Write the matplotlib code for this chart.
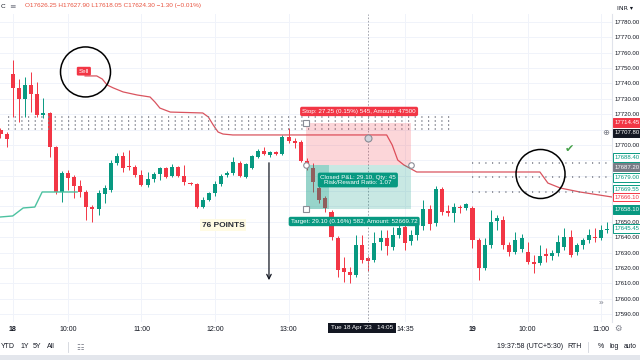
import matplotlib.pyplot as plt
import matplotlib.transforms as mtransforms
from matplotlib.patches import Rectangle, Ellipse
import numpy as np

plt.rcParams['font.family'] = ['Liberation Sans', 'DejaVu Sans']

# 5 minute candles, 17 Apr 15:20 -> 19 Apr ~11:10
opens = [17709.7, 17707.1, 17746.2, 17737.1, 17729.9, 17739.0, 17733.1, 17719.5, 17720.8, 17698.7,
         17669.4, 17681.7, 17679.1, 17673.3, 17669.4, 17659.6, 17658.3, 17668.0, 17670.7, 17688.3,
         17692.8, 17686.3, 17685.7, 17680.5, 17673.9, 17677.8, 17681.1, 17685.0, 17679.8, 17685.7,
         17679.8, 17675.2, 17674.6, 17659.6, 17664.2, 17668.7, 17674.6, 17680.5, 17681.7, 17688.3,
         17679.1, 17685.0, 17692.2, 17696.1, 17693.5, 17695.4, 17694.1, 17705.2, 17702.6, 17701.9,
         17689.6, 17685.0, 17672.0, 17665.5, 17656.4, 17639.5, 17620.0, 17617.3, 17615.4, 17634.9,
         17626.25, 17625.2, 17636.8, 17639.5, 17633.6, 17641.4, 17646.6, 17637.5, 17641.4, 17647.3,
         17658.3, 17649.2, 17671.3, 17657.0, 17655.7, 17659.6, 17659.0, 17659.0, 17638.2, 17619.9,
         17634.9, 17650.5, 17651.2, 17634.9, 17630.4, 17632.3, 17630.4, 17623.8, 17623.2, 17629.1,
         17627.8, 17629.7, 17633.6, 17640.1, 17630.4, 17634.9, 17638.2, 17640.1, 17639.5, 17644.7]
highs = [17711.0, 17708.4, 17755.3, 17742.9, 17744.2, 17747.5, 17740.9, 17730.6, 17721.5, 17699.3,
         17683.0, 17683.7, 17680.4, 17677.2, 17670.7, 17660.9, 17670.7, 17673.9, 17690.2, 17694.8,
         17695.4, 17696.7, 17687.0, 17683.7, 17682.4, 17682.4, 17685.7, 17685.7, 17687.6, 17686.3,
         17687.0, 17675.9, 17675.2, 17666.1, 17669.4, 17676.5, 17681.1, 17683.0, 17692.2, 17689.6,
         17688.3, 17693.5, 17697.4, 17698.7, 17696.1, 17696.1, 17706.5, 17711.0, 17704.5, 17703.2,
         17691.5, 17688.3, 17673.3, 17666.8, 17657.7, 17640.8, 17627.1, 17620.6, 17641.4, 17641.4,
         17627.90, 17643.4, 17644.7, 17644.7, 17646.6, 17651.2, 17649.9, 17644.7, 17652.5, 17664.2,
         17660.9, 17673.3, 17672.6, 17660.9, 17662.2, 17660.9, 17662.2, 17660.3, 17639.5, 17639.5,
         17657.7, 17654.4, 17653.8, 17636.9, 17643.4, 17642.1, 17636.9, 17628.4, 17634.9, 17632.9,
         17631.7, 17641.4, 17646.0, 17644.7, 17636.2, 17639.5, 17645.3, 17646.0, 17648.0, 17649.9]
lows = [17704.5, 17698.7, 17718.2, 17714.9, 17718.2, 17721.5, 17718.2, 17717.5, 17692.2, 17668.0,
        17662.9, 17670.7, 17665.5, 17666.1, 17651.2, 17649.9, 17654.4, 17662.2, 17669.4, 17687.0,
        17682.4, 17683.7, 17679.2, 17673.3, 17672.6, 17675.9, 17677.2, 17678.5, 17679.1, 17679.1,
        17673.9, 17673.9, 17659.0, 17659.0, 17663.5, 17666.8, 17673.3, 17679.1, 17680.5, 17679.1,
        17678.5, 17684.4, 17691.5, 17693.5, 17692.2, 17693.5, 17693.5, 17701.3, 17698.0, 17688.9,
        17683.7, 17669.4, 17662.2, 17656.4, 17638.2, 17614.1, 17610.8, 17610.2, 17614.1, 17623.2,
        17618.05, 17623.8, 17631.7, 17628.4, 17631.7, 17639.5, 17631.7, 17634.9, 17638.2, 17644.7,
        17644.7, 17647.3, 17654.4, 17653.8, 17649.9, 17655.7, 17657.7, 17633.0, 17612.1, 17618.6,
        17632.9, 17644.7, 17632.3, 17627.8, 17629.1, 17630.4, 17622.5, 17616.7, 17621.9, 17623.8,
        17625.2, 17627.8, 17631.7, 17627.1, 17628.4, 17632.3, 17636.2, 17636.9, 17638.2, 17642.7]
closes = [17707.1, 17703.9, 17737.1, 17729.9, 17739.0, 17733.1, 17719.5, 17720.8, 17698.7, 17669.4,
          17681.7, 17678.5, 17673.3, 17669.4, 17659.6, 17658.3, 17668.7, 17672.0, 17688.3, 17692.8,
          17685.0, 17685.7, 17680.5, 17673.9, 17677.8, 17681.1, 17685.0, 17679.1, 17685.7, 17679.8,
          17675.9, 17674.6, 17659.6, 17664.2, 17668.7, 17674.6, 17679.8, 17681.7, 17688.9, 17679.8,
          17687.6, 17692.8, 17696.1, 17694.1, 17695.4, 17694.1, 17705.2, 17702.6, 17701.3, 17689.6,
          17685.0, 17675.9, 17664.2, 17659.0, 17640.1, 17618.6, 17617.3, 17615.4, 17634.9, 17625.2,
          17624.30, 17636.2, 17639.5, 17634.3, 17641.4, 17646.0, 17636.2, 17641.4, 17648.0, 17658.3,
          17648.6, 17671.3, 17656.4, 17655.7, 17659.6, 17659.0, 17661.6, 17638.2, 17619.9, 17634.9,
          17649.9, 17652.5, 17634.9, 17630.4, 17638.2, 17639.5, 17623.8, 17622.5, 17627.8, 17627.8,
          17629.7, 17636.9, 17640.1, 17628.4, 17634.9, 17638.2, 17641.4, 17639.5, 17644.7, 17645.45]

# trailing stop lines (bar index, price)
sell_x = [13.8, 15.7, 16.6, 17.4, 18.4, 20.0, 22.3, 24.4, 25.2, 26.0, 27.7, 33.0, 33.9, 34.7,
          35.5, 36.3, 37.9, 63.0, 63.9, 64.8, 65.8, 67.9, 88.0, 89.3, 91.3, 94.5, 99.8]
sell_y = [17744.9, 17744.9, 17742.9, 17739.0, 17737.1, 17734.5, 17732.5, 17731.2, 17727.9,
          17724.0, 17721.4, 17720.8, 17718.2, 17713.0, 17708.4, 17707.1, 17706.5, 17706.5,
          17700.0, 17690.2, 17687.0, 17682.4, 17682.4, 17675.2, 17672.0, 17669.4, 17666.1]
buy_x = [-0.1, 2.0, 3.7, 5.6, 6.8, 12.5]
buy_y = [17653.1, 17653.8, 17659.0, 17659.6, 17669.4, 17669.4]

# short position tool
entry = 17687.20
stop = 17714.45
target = 17658.10
pos_start, pos_end, pos_closed = 49.84, 66.97, 53.6

left_levels = [17718.5, 17715.6, 17713.0, 17710.4]
right_levels = [17688.40, 17679.00, 17669.55]

tick_idx = [2, 11, 23, 35, 47, 66, 77, 86, 98]
tick_lbl = ['18', '10:00', '11:00', '12:00', '13:00', '14:35', '19', '10:00', '11:00']
price_levels = list(range(17590, 17790, 10))
shown_prices = [17780, 17770, 17760, 17750, 17740, 17730, 17720, 17700,
                17650, 17640, 17630, 17620, 17610, 17600, 17590]

GREEN = '#089981'
RED = '#f23645'
TXT = '#131722'

fig = plt.figure(figsize=(6.4, 3.6), dpi=100)
ax = fig.add_axes([0, 38 / 360, 612 / 640, 308 / 360])
ax.set_xlim(-0.08, 99.76)
ax.set_ylim(17584.8, 17785.2)
for s in ['top', 'left', 'bottom']:
    ax.spines[s].set_visible(False)
ax.spines['right'].set_color('#e0e3eb')
ax.spines['right'].set_linewidth(0.8)

ax.yaxis.tick_right()
ax.set_yticks(price_levels, ['%.2f' % p if p in shown_prices else '' for p in price_levels])
ax.tick_params(axis='y', length=0, pad=2, labelsize=4.3, labelcolor=TXT)
ax.set_xticks(tick_idx, tick_lbl)
ax.tick_params(axis='x', length=0, pad=3, labelsize=5, labelcolor=TXT)
for t in ax.get_xticklabels():
    if t.get_text() in ('18', '19'):
        t.set_fontweight('bold')
ax.grid(True, color='#f0f3fa', lw=0.7)
ax.set_axisbelow(True)

# candles
o = np.array(opens)
c = np.array(closes)
x = np.arange(len(o))
cols = np.where(c >= o, GREEN, RED)
ax.vlines(x, lows, highs, colors=cols, lw=0.7, zorder=2)
ax.bar(x, np.maximum(np.abs(c - o), 0.8), bottom=np.minimum(o, c), width=0.66,
       color=cols, lw=0, zorder=2)

# supertrend style lines
ax.plot(sell_x, sell_y, color='#d9545f', lw=0.9, zorder=3)
ax.plot(buy_x, buy_y, color='#4cc2a0', lw=1.0, zorder=3)

# dotted levels
dots = dict(colors='#80838d', lw=1.2, linestyles=(0, (0.7, 3.3)), zorder=3)
ax.hlines(left_levels, 1.2, 74, **dots)
ax.hlines(right_levels, 77, 99.5, **dots)

# position zones
w = pos_end - pos_start
ax.add_patch(Rectangle((pos_start, entry), w, stop - entry, fc=RED, alpha=0.2, lw=0, zorder=4))
ax.add_patch(Rectangle((pos_start, target), w, entry - target, fc=GREEN, alpha=0.22, lw=0, zorder=4))
ax.add_patch(Rectangle((pos_start, target), pos_closed - pos_start, entry - target,
                       fc=GREEN, alpha=0.25, lw=0, zorder=4))

# crosshair
ax.axvline(60, color='#9598a1', lw=0.6, ls=(0, (2, 2)), zorder=3)

# handles
hk = dict(mfc='white', mec='#8a8d96', mew=0.8, ms=4, zorder=7, ls='none')
ax.plot([pos_start, pos_start], [stop, target], marker='s', **hk)
ax.plot([pos_start, pos_end], [entry, entry], marker='o', **hk)
ax.plot([60], [17704.5], marker='o', ms=5, mfc='#d1d4dc', mec='#8a8d96', mew=0.8, zorder=7)

# labels on the position tool
ax.text(58.5, 17721.8, 'Stop: 27.25 (0.15%) 545, Amount: 47500', ha='center', va='center',
        fontsize=4.5, color='white', zorder=8,
        bbox=dict(boxstyle='round,pad=0.35,rounding_size=0.3', fc=RED, ec='none'))
ax.text(58.3, 17677.2, 'Closed P&L: 29.10, Qty: 45\nRisk/Reward Ratio: 1.07', ha='center',
        va='center', fontsize=4.5, color='white', linespacing=1.1, zorder=8,
        bbox=dict(boxstyle='round,pad=0.35,rounding_size=0.3', fc=GREEN, ec='none'))
ax.text(57.7, 17650.2, 'Target: 29.10 (0.16%) 582, Amount: 52669.72', ha='center', va='center',
        fontsize=4.5, color='white', zorder=8,
        bbox=dict(boxstyle='round,pad=0.35,rounding_size=0.3', fc=GREEN, ec='none'))
ax.text(13.6, 17748.0, 'Sell', ha='center', va='center', fontsize=4.5, color='white', zorder=8,
        bbox=dict(boxstyle='round,pad=0.3,rounding_size=0.2', fc=RED, ec='none'))

# annotations drawn by the author
ax.add_patch(Ellipse((13.87, 17747.5), 50 / 6.13, 50 / 1.537, fill=False, ec='black', lw=1.1, zorder=8))
ax.add_patch(Ellipse((88.1, 17681.1), 49 / 6.13, 49 / 1.537, fill=False, ec='black', lw=1.1, zorder=8))
ax.text(92.8, 17697.5, '\u2714', family='DejaVu Sans', fontsize=8, color='#43a047',
        ha='center', va='center', zorder=8)
ax.annotate('', xy=(43.8, 17610.2), xytext=(43.8, 17690.2),
            arrowprops=dict(arrowstyle='->', color=TXT, lw=0.9, mutation_scale=8), zorder=8)
ax.text(36.3, 17647.9, '76 POINTS', ha='center', va='center', fontsize=6, fontweight='bold',
        color='#2a2e39', zorder=8, bbox=dict(boxstyle='square,pad=0.25', fc='#fffbe3', ec='none'))

# price tags on the scale
trans = mtransforms.blended_transform_factory(ax.transAxes, ax.transData)
px = 1.0 / 1.537


def tag(price, fc, tc, ec, dy=0.0):
    ax.text(1.0 + 3 / 612, price - dy * px, '%.2f' % price, transform=trans, ha='left',
            va='center', fontsize=4.3, color=tc, clip_on=False, zorder=10,
            bbox=dict(boxstyle='square,pad=0.3', fc=fc, ec=ec, lw=0.7))


tag(17714.45, RED, 'white', RED)
tag(17707.80, TXT, 'white', TXT)
tag(17688.40, 'white', GREEN, GREEN, dy=-5.5)
tag(17687.20, '#787b86', 'white', '#787b86', dy=2.4)
tag(17679.00, 'white', GREEN, GREEN)
tag(17669.55, 'white', GREEN, GREEN, dy=-2.5)
tag(17666.10, 'white', RED, RED)
tag(17658.10, GREEN, 'white', GREEN)
tag(17645.45, 'white', GREEN, GREEN)
ax.text(1.0 - 6 / 612, 17707.80, '\u2295', transform=trans, family='DejaVu Sans', fontsize=6,
        color='#787b86', ha='center', va='center', clip_on=False, zorder=10)
ax.text(98.0, 17597.0, '\u00bb', fontsize=6, color='#787b86', ha='center', va='center', zorder=8)

# time label of the crosshair
xtrans = mtransforms.blended_transform_factory(ax.transData, ax.transAxes)
ax.text(59.0, -6 / 308, "Tue 18 Apr '23   14:05", transform=xtrans, ha='center', va='center',
        fontsize=4.6, color='white', clip_on=False, zorder=10,
        bbox=dict(boxstyle='square,pad=0.4', fc=TXT, ec='none'))

# header and toolbar
fig.text(1 / 640, 1 - 6 / 360, 'C', fontsize=4.6, color=TXT, va='center')
fig.text(9 / 640, 1 - 6 / 360, '\u2261', fontsize=5.5, color='#787b86', va='center', family='DejaVu Sans')
fig.text(25 / 640, 1 - 6 / 360, 'O17626.25 H17627.90 L17618.05 C17624.30 \u22121.30 (\u22120.01%)',
         fontsize=4.6, color='#e8533f', va='center')
fig.text(617 / 640, 1 - 8 / 360, 'INR \u25be', fontsize=4.5, color=TXT, va='center', family='DejaVu Sans')
fig.text(618 / 640, 1 - 328 / 360, '\u2699', fontsize=6, color='#787b86', va='center', ha='center',
         family='DejaVu Sans')

yb = 1 - 347 / 360
for xx, s in [(1, 'YTD'), (20, '1Y'), (33, '5Y'), (47, 'All')]:
    fig.text(xx / 640, yb, s, fontsize=5, color=TXT, va='center')
fig.add_artist(plt.Line2D([68 / 640, 68 / 640], [yb - 0.015, yb + 0.015], color='#d1d4dc', lw=0.6))
fig.text(80 / 640, yb, '\u2637', fontsize=6, color='#787b86', va='center', ha='center', family='DejaVu Sans')
fig.text(497 / 640, yb, '19:37:58 (UTC+5:30)', fontsize=5, color=TXT, va='center')
fig.text(567 / 640, yb, 'RTH', fontsize=5, color=TXT, va='center')
fig.add_artist(plt.Line2D([588 / 640, 588 / 640], [yb - 0.015, yb + 0.015], color='#d1d4dc', lw=0.6))
fig.text(598 / 640, yb, '%', fontsize=5, color=TXT, va='center')
fig.text(609 / 640, yb, 'log', fontsize=5, color=TXT, va='center')
fig.text(624 / 640, yb, 'auto', fontsize=4.8, color=TXT, va='center')
fig.add_artist(Rectangle((0, 0), 1, 5 / 360, transform=fig.transFigure, fc='#e3e6ec', ec='none'))

fig.savefig('out.png', dpi=100)
